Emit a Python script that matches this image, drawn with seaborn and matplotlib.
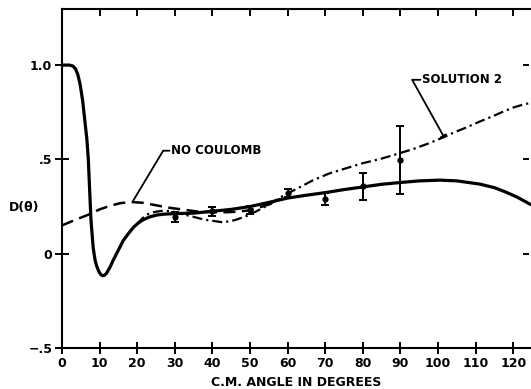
import numpy as np
import pandas as pd
import matplotlib
matplotlib.use("Agg")
import matplotlib.pyplot as plt
import seaborn as sns

# ---- data ----
solid_x = [0, 2.0, 2.9, 3.6, 4.2, 4.8, 5.5, 6.1, 6.6, 7.0, 7.3, 7.7, 8.3, 8.8, 9.2, 9.8, 10.3,
           10.8, 11.3, 11.8, 12.8, 13.6, 14.5, 16.3, 17.6, 19.0, 20.3, 21.6, 23.3, 25.2, 27.3,
           29.6, 35, 40, 45, 50, 55, 60, 65, 70.4, 75, 80.4, 85, 90.3, 95, 100.5, 105, 111.1,
           115, 118.2, 121, 124.7]
solid_y = [1.0, 1.0, 0.995, 0.98, 0.95, 0.9, 0.81, 0.70, 0.61, 0.50, 0.36, 0.18, 0.03,
           -0.035, -0.064, -0.095, -0.11, -0.117, -0.114, -0.105, -0.07, -0.035, 0.0, 0.07,
           0.105, 0.14, 0.163, 0.18, 0.195, 0.205, 0.21, 0.212, 0.215, 0.225, 0.235, 0.25,
           0.272, 0.295, 0.31, 0.325, 0.34, 0.355, 0.368, 0.378, 0.386, 0.39, 0.386, 0.369,
           0.35, 0.325, 0.30, 0.26]

nocoul_x = [0, 3, 7.4, 10, 12.8, 15.5, 18.5, 21.5, 25.2, 28, 31.4, 35.8, 40, 42.8, 46, 49.1,
            52, 55.3, 58]
nocoul_y = [0.15, 0.175, 0.21, 0.235, 0.254, 0.268, 0.274, 0.27, 0.256, 0.245, 0.236, 0.224,
            0.22, 0.219, 0.222, 0.228, 0.242, 0.263, 0.29]

sol2_x = [19.9, 21.5, 22.9, 24.8, 26.9, 28.7, 30.5, 34, 38, 42.9, 46, 49.1, 52, 55.3, 58, 62,
          66.8, 71, 75.7, 80, 84.6, 89, 93.4, 97.5, 101.4, 104.5, 107.6, 111, 114.7, 117.5,
          120, 122.5, 124.7]
sol2_y = [0.157, 0.19, 0.21, 0.222, 0.228, 0.226, 0.219, 0.20, 0.18, 0.166, 0.178, 0.20, 0.228,
          0.263, 0.298, 0.34, 0.39, 0.425, 0.454, 0.48, 0.502, 0.528, 0.555, 0.585, 0.617,
          0.645, 0.67, 0.70, 0.73, 0.755, 0.775, 0.79, 0.80]

exp_angle = [30, 40, 50, 60, 70, 80, 90]
exp_D = [0.195, 0.225, 0.232, 0.322, 0.29, 0.357, 0.497]
exp_err = [0.025, 0.025, 0.022, 0.02, 0.03, 0.07, 0.18]

x_ticks = list(range(0, 121, 10))
y_ticks = [-0.5, 0, 0.5, 1.0]
y_ticklabels = ["\u2212.5", "0", ".5", "1.0"]

# ---- plotting ----
sns.set_style("ticks")
plt.rcParams['font.family'] = ['DejaVu Sans']
plt.rcParams['font.weight'] = 'bold'
plt.rcParams['text.color'] = 'black'
plt.rcParams['axes.labelcolor'] = 'black'
plt.rcParams['xtick.color'] = 'black'
plt.rcParams['ytick.color'] = 'black'
plt.rcParams['xtick.labelcolor'] = 'black'
plt.rcParams['ytick.labelcolor'] = 'black'

fig = plt.figure(figsize=(5.31, 3.89), dpi=100)
ax = fig.add_axes([62 / 531, 41 / 389, 469 / 531, 339.5 / 389])

df_solid = pd.DataFrame({"angle": solid_x, "D": solid_y})
df_nc = pd.DataFrame({"angle": nocoul_x, "D": nocoul_y})
df_s2 = pd.DataFrame({"angle": sol2_x, "D": sol2_y})

sns.lineplot(data=df_solid, x="angle", y="D", ax=ax, color="black", lw=2.3,
             sort=False, estimator=None, solid_joinstyle="round", solid_capstyle="round")
sns.lineplot(data=df_nc, x="angle", y="D", ax=ax, color="black", lw=1.8,
             sort=False, estimator=None)
ax.lines[-1].set_linestyle((0, (4.8, 2.6)))
sns.lineplot(data=df_s2, x="angle", y="D", ax=ax, color="black", lw=1.6,
             sort=False, estimator=None)
ax.lines[-1].set_linestyle((0, (4.5, 1.8, 1.0, 1.8)))

ax.errorbar(exp_angle, exp_D, yerr=exp_err, fmt="o", color="black", ms=3.5,
            elinewidth=1.4, capsize=3, capthick=1.4)

# annotations with leader lines
ax.plot([28.6, 26.9, 18.9], [0.546, 0.546, 0.28], color="black", lw=1.3)
ax.text(28.9, 0.546, "NO COULOMB", fontsize=8.5, fontweight="bold", va="center", ha="left",
        color="black")
ax.plot([95.3, 93.1, 101.4], [0.922, 0.922, 0.625], color="black", lw=1.3)
ax.plot([100.7, 102.1], [0.617, 0.633], color="black", lw=1.3)
ax.text(95.8, 0.922, "SOLUTION 2", fontsize=8.5, fontweight="bold", va="center", ha="left",
        color="black")

ax.set_xlim(0, 124.7)
ax.set_ylim(-0.5, 1.30)
ax.set_xticks(x_ticks)
ax.set_xticklabels([str(t) for t in x_ticks], fontsize=9, fontweight="bold", color="black")
ax.set_yticks(y_ticks)
ax.set_yticklabels(y_ticklabels, fontsize=9, fontweight="bold", color="black")

ax.set_xlabel("C.M. ANGLE IN DEGREES", fontsize=9, fontweight="bold", labelpad=4,
              color="black")
ax.set_ylabel("")
fig.text(24 / 531, 1 - 208 / 389, "D(\u03b8)", fontsize=9, fontweight="bold",
         ha="center", va="center", color="black")

for s in ["left", "bottom", "top"]:
    ax.spines[s].set_linewidth(1.5)
    ax.spines[s].set_color("black")
ax.spines["right"].set_visible(False)

ax.tick_params(axis="x", which="major", bottom=True, top=True, direction="inout",
               length=9, width=1.4, pad=2, colors="black")
ax.tick_params(axis="x", which="major", top=True, labeltop=False)
ax.tick_params(axis="y", which="major", left=True, direction="inout", length=10,
               width=1.4, pad=2, colors="black")
for t in ax.xaxis.get_major_ticks():
    t.tick2line.set_marker(matplotlib.lines.TICKDOWN)
    t.tick2line.set_markersize(5)
ax.tick_params(axis="y", right=True)
for t in ax.yaxis.get_major_ticks():
    t.tick2line.set_marker(matplotlib.lines.TICKLEFT)
    t.tick2line.set_markersize(4)
    t.tick2line.set_xdata([0.995])

fig.savefig("out.png", dpi=100)
